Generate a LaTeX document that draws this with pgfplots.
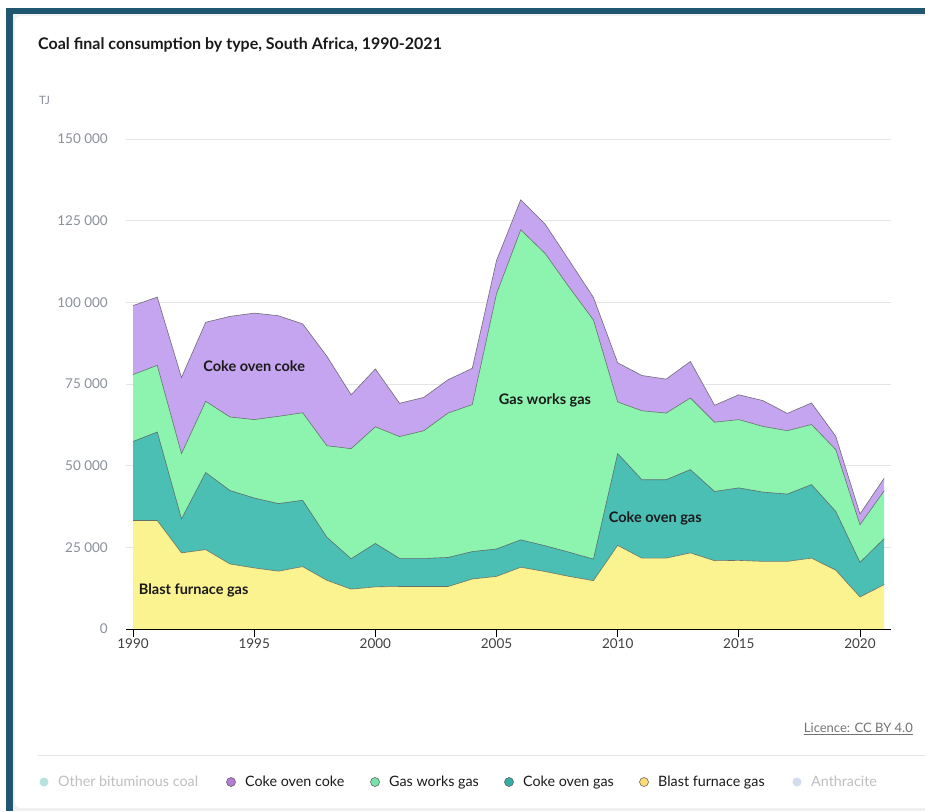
\documentclass[border=0pt]{standalone}
\usepackage{pgfplots}
\pgfplotsset{compat=1.18}
\usepackage{fontspec}
\setmainfont{Lato}
\usepackage{xcolor}

\definecolor{frame}{HTML}{1F5670}
\definecolor{cCOC}{HTML}{C6A5F0}
\definecolor{cGWG}{HTML}{8DF4B0}
\definecolor{cCOG}{HTML}{4CBFB5}
\definecolor{cBF}{HTML}{FBF38F}
\definecolor{edge}{HTML}{555555}
\definecolor{tickgray}{HTML}{8A909A}
\definecolor{txt}{HTML}{1A1A1A}
\definecolor{lgOther}{HTML}{B6E3DF}
\definecolor{lgAnth}{HTML}{D3DCEF}

% values in TJ
\pgfplotstableread{
year  bf     cog    gwg    coc
1990  33200  24200  20500  21100
1991  33200  27100  20400  20900
1992  23300  10400  20000  23300
1993  24300  23600  21800  24200
1994  19900  22500  22500  30800
1995  18700  21400  24000  32600
1996  17700  20700  26700  30800
1997  19100  20300  26800  27200
1998  14900  13200  28000  27400
1999  12200   9300  33700  16500
2000  12900  13300  35700  17700
2001  13000   8600  37300  10200
2002  13000   8600  39100  10200
2003  13000   8900  44200  10200
2004  15300   8400  45000  11100
2005  16100   8400  78100  10200
2006  18900   8400  94900   9200
2007  17600   7900  89500   9000
2008  16100   7400  81100   8200
2009  14800   6600  73200   6900
2010  25600  28100  15800  12000
2011  21700  24000  21100  10800
2012  21700  24000  20400  10400
2013  23300  25500  21900  11200
2014  20900  21200  21200   5200
2015  21000  22200  20900   7600
2016  20700  21200  20100   7900
2017  20700  20600  19400   5300
2018  21700  22500  18400   6600
2019  18000  18000  18900   4100
2020   9800  10600  11500   3300
2021  13600  14100  14600   3900
}\coaldata

\begin{document}
\begin{tikzpicture}[x=1pt,y=1pt]
\path[use as bounding box] (0,0) rectangle (925,811);
% card frame
\fill[frame] (6,0) rectangle (930,803);
\fill[black!6] (13,0) rectangle (930,797);
\fill[white, rounded corners=6pt] (15,3) rectangle (940,795);

\node[anchor=base west, font=\fontsize{16}{18}\selectfont\bfseries, text=txt, inner sep=0pt] at (38,761) {Coal final consumption by type, South Africa, 1990-2021};
\node[anchor=base west, font=\fontsize{11.5}{13}\selectfont, text=tickgray, inner sep=0pt] at (39,706) {TJ};

\begin{axis}[
    scale only axis,
    width=765pt, height=490pt,
    at={(126pt,182pt)}, anchor=south west,
    xmin=1989.71, xmax=2021.28,
    ymin=0, ymax=150000,
    scaled y ticks=false,
    stack plots=y,
    axis x line*=bottom,
    axis y line*=left,
    every outer x axis line/.append style={-, black, line width=0.9pt},
    every outer y axis line/.append style={-, draw=none},
    xtick={1990,1995,2000,2005,2010,2015,2020},
    xticklabels={1990,1995,2000,2005,2010,2015,2020},
    ytick={0,25000,50000,75000,100000,125000,150000},
    yticklabels={0,25 000,50 000,75 000,100 000,125 000,150 000},
    tick align=outside,
    major tick length=8pt,
    xtick style={black, line width=0.8pt},
    ytick style={draw=none},
    ymajorgrids=true,
    grid style={black!10, line width=0.8pt},
    xticklabel style={font=\fontsize{13.5}{15}\selectfont, text=black!75, inner sep=1.5pt},
    yticklabel style={font=\fontsize{13.5}{15}\selectfont, text=tickgray, anchor=east, inner sep=0pt, xshift=-10pt},
]
\addplot[fill=cBF, draw=none] table[x=year, y=bf] {\coaldata} \closedcycle;
\addplot[fill=cCOG, draw=none] table[x=year, y=cog] {\coaldata} \closedcycle;
\addplot[fill=cGWG, draw=none] table[x=year, y=gwg] {\coaldata} \closedcycle;
\addplot[fill=cCOC, draw=none] table[x=year, y=coc] {\coaldata} \closedcycle;
\end{axis}

\begin{axis}[
    scale only axis,
    width=765pt, height=490pt,
    at={(126pt,182pt)}, anchor=south west,
    xmin=1989.71, xmax=2021.28,
    ymin=0, ymax=150000,
    stack plots=y,
    hide axis,
    clip=false,
]
\addplot[draw=edge, draw opacity=0.8, line width=0.6pt] table[x=year, y=bf] {\coaldata};
\addplot[draw=edge, draw opacity=0.8, line width=0.6pt] table[x=year, y=cog] {\coaldata};
\addplot[draw=edge, draw opacity=0.8, line width=0.6pt] table[x=year, y=gwg] {\coaldata};
\addplot[draw=edge, draw opacity=0.8, line width=0.6pt] table[x=year, y=coc] {\coaldata};
\draw[black, line width=0.9pt] (rel axis cs:0,0) -- (rel axis cs:1,0);
\node[font=\fontsize{14.5}{16}\selectfont\bfseries, text=txt] at (axis cs:1995,80500) {Coke oven coke};
\node[font=\fontsize{14.5}{16}\selectfont\bfseries, text=txt] at (axis cs:2007,70100) {Gas works gas};
\node[font=\fontsize{14.5}{16}\selectfont\bfseries, text=txt] at (axis cs:2011.55,33700) {Coke oven gas};
\node[font=\fontsize{14.5}{16}\selectfont\bfseries, text=txt] at (axis cs:1992.5,11900) {Blast furnace gas};
\end{axis}

% licence and legend
\node[anchor=base east, font=\fontsize{13}{15}\selectfont, text=black!55, inner sep=0pt] (lic) at (913,79) {Licence: CC BY 4.0};
\draw[black!55, line width=0.5pt] ([yshift=-2pt]lic.base west) -- ([yshift=-2pt]lic.base east);
\draw[black!10, line width=1pt] (38,56) -- (925,56);

\begin{scope}[every node/.style={anchor=base west, font=\fontsize{14.3}{16}\selectfont, inner sep=0pt}]
\fill[lgOther] (44,29) circle (4.5);
\node[text=black!25] at (58,24.5) {Other bituminous coal};
\filldraw[fill=cCOC!75!violet, draw=edge, line width=0.5pt] (231,29) circle (4.5);
\node[text=txt] at (245,24.5) {Coke oven coke};
\filldraw[fill=cGWG!85!teal, draw=edge, line width=0.5pt] (375,29) circle (4.5);
\node[text=txt] at (389,24.5) {Gas works gas};
\filldraw[fill=cCOG!70!teal, draw=edge, line width=0.5pt] (509,29) circle (4.5);
\node[text=txt] at (523,24.5) {Coke oven gas};
\filldraw[fill=cBF!80!orange, draw=edge, line width=0.5pt] (644,29) circle (4.5);
\node[text=txt] at (658,24.5) {Blast furnace gas};
\fill[lgAnth] (797,29) circle (4.5);
\node[text=black!25] at (811,24.5) {Anthracite};
\end{scope}
\end{tikzpicture}
\end{document}
